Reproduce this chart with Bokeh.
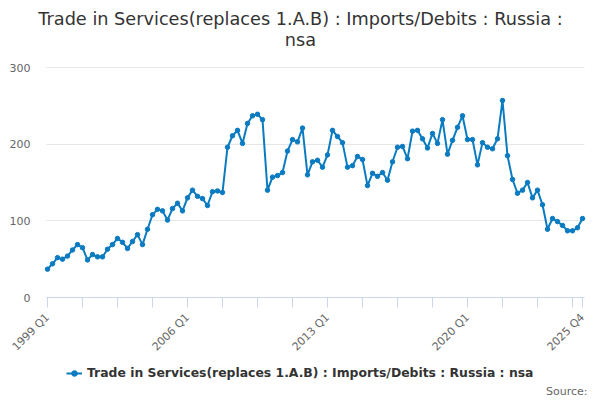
import math
from bokeh.plotting import figure
from bokeh.models import (ColumnDataSource, FixedTicker, Legend, LegendItem,
                          Range1d, Label, LinearAxis)
from bokeh.embed import file_html
from bokeh.resources import INLINE

# ---- data -------------------------------------------------------------
start_year = 1999
values = [
    37, 44, 52, 50, 54, 62, 69, 65, 49, 56, 53, 53, 63, 69, 77, 72,
    64, 73, 82, 69, 89, 108, 115, 113, 101, 116, 123, 113, 130, 140, 132, 129,
    120, 138, 139, 137, 196, 211, 218, 201, 227, 237, 239, 232, 140, 157, 159, 163,
    191, 206, 203, 221, 160, 177, 179, 170, 186, 218, 210, 202, 170, 172, 184, 180,
    146, 162, 158, 163, 153, 177, 196, 197, 181, 217, 218, 207, 195, 214, 201, 232,
    187, 205, 222, 237, 206, 206, 173, 202, 196, 194, 207, 257, 185, 154, 136, 140,
    150, 130, 140, 121, 89, 103, 99, 94, 87, 87, 91, 103,
]
quarters = [f"{start_year + i // 4} Q{i % 4 + 1}" for i in range(len(values))]
tick_positions = list(range(0, len(values) - 2, 7)) + [len(values) - 1]
labelled_ticks = ["1999 Q1", "2006 Q1", "2013 Q1", "2020 Q1", "2025 Q4"]

series_name = "Trade in Services(replaces 1.A.B) : Imports/Debits : Russia : nsa"
title_line1 = "Trade in Services(replaces 1.A.B) : Imports/Debits : Russia :"
title_line2 = "nsa"
source_text = "Source:"
y_ticks = [0, 100, 200, 300]
y_min, y_max = 0, 300

# ---- layout constants (pixels) -----------------------------------------
FONT = "DejaVu Sans"
LINE_COLOR = "#0b7bc1"
W, H = 600, 400
PLOT_L, PLOT_R = 46, 584        # plot area left / right
PLOT_T, PLOT_B = 67, 297        # plot area top / bottom
PX_PER_Q = 5.0                  # pixels per quarter
n = len(values)

# ranges chosen so that the whole canvas is the frame and the plot area
# lands at PLOT_L..PLOT_R x PLOT_T..PLOT_B
x0 = -(PLOT_L + 1) / PX_PER_Q
x1 = x0 + W / PX_PER_Q
py = (PLOT_B - PLOT_T) / (y_max - y_min)
y1 = y_max + PLOT_T / py
y0 = y_min - (H - PLOT_B) / py
bound_l = x0 + PLOT_L / PX_PER_Q
bound_r = x0 + PLOT_R / PX_PER_Q

src = ColumnDataSource(dict(x=list(range(n)), y=values, q=quarters))

p = figure(width=W, height=H, output_backend="svg", toolbar_location=None,
           x_range=Range1d(x0, x1), y_range=Range1d(y0, y1),
           x_axis_location=None, y_axis_location=None,
           min_border=0, min_border_left=0, min_border_right=0,
           min_border_top=0, min_border_bottom=0, title=None)
p.outline_line_color = None
p.background_fill_color = "white"
p.border_fill_color = "white"
p.grid.visible = False

# y axis: labels left of plot area, its ticks drawn inward as grid lines
ya = LinearAxis(fixed_location=bound_l, bounds=(y_min, y_max), level="underlay")
ya.ticker = FixedTicker(ticks=y_ticks, minor_ticks=[])
ya.axis_line_color = None
ya.major_tick_line_color = "#e6e6e6"
ya.major_tick_line_width = 1
ya.major_tick_in = PLOT_R - PLOT_L
ya.major_tick_out = 0
ya.minor_tick_line_color = None
ya.major_label_text_font = FONT
ya.major_label_text_font_size = "11px"
ya.major_label_text_color = "#666666"
ya.major_label_standoff = 16
p.add_layout(ya, "left")

# x axis at y = 0
xa = LinearAxis(fixed_location=y_min, bounds=(bound_l, bound_r))
xa.ticker = FixedTicker(ticks=tick_positions, minor_ticks=[])
overrides = {}
for t in tick_positions:
    overrides[t] = quarters[t] if quarters[t] in labelled_ticks else ""
xa.major_label_overrides = overrides
xa.major_label_orientation = math.pi / 4
xa.axis_line_color = "#ccd6eb"
xa.major_tick_line_color = "#ccd6eb"
xa.major_tick_out = 10
xa.major_tick_in = 0
xa.minor_tick_line_color = None
xa.major_label_text_font = FONT
xa.major_label_text_font_size = "11px"
xa.major_label_text_color = "#666666"
xa.major_label_standoff = 8
p.add_layout(xa, "below")

r_line = p.line("x", "y", source=src, line_color=LINE_COLOR, line_width=2)
r_pts = p.scatter("x", "y", source=src, size=4.5, fill_color=LINE_COLOR,
                  line_color=LINE_COLOR)

# title (two centred lines)
p.add_layout(Label(x=W / 2, y=H - 18, x_units="screen", y_units="screen",
                   text=title_line1, text_font=FONT, text_font_size="17.7px",
                   text_color="#333333", text_align="center",
                   text_baseline="middle"))
p.add_layout(Label(x=W / 2, y=H - 39, x_units="screen", y_units="screen",
                   text=title_line2, text_font=FONT, text_font_size="17.7px",
                   text_color="#333333", text_align="center",
                   text_baseline="middle"))

# legend
legend = Legend(items=[LegendItem(label=series_name, renderers=[r_line, r_pts])],
                location=(66, H - 380), orientation="horizontal",
                label_text_font=FONT, label_text_font_size="12.4px",
                label_text_font_style="bold", label_text_color="#333333",
                border_line_color=None, background_fill_alpha=0,
                glyph_width=16, glyph_height=14, label_height=14,
                label_standoff=5, padding=0, margin=0, spacing=0)
p.add_layout(legend, "center")

# source credit
p.add_layout(Label(x=587, y=H - 391, x_units="screen", y_units="screen",
                   text=source_text, text_font=FONT, text_font_size="11px",
                   text_color="#666666", text_align="right",
                   text_baseline="middle"))

open("out.html", "w").write(file_html(p, INLINE))
